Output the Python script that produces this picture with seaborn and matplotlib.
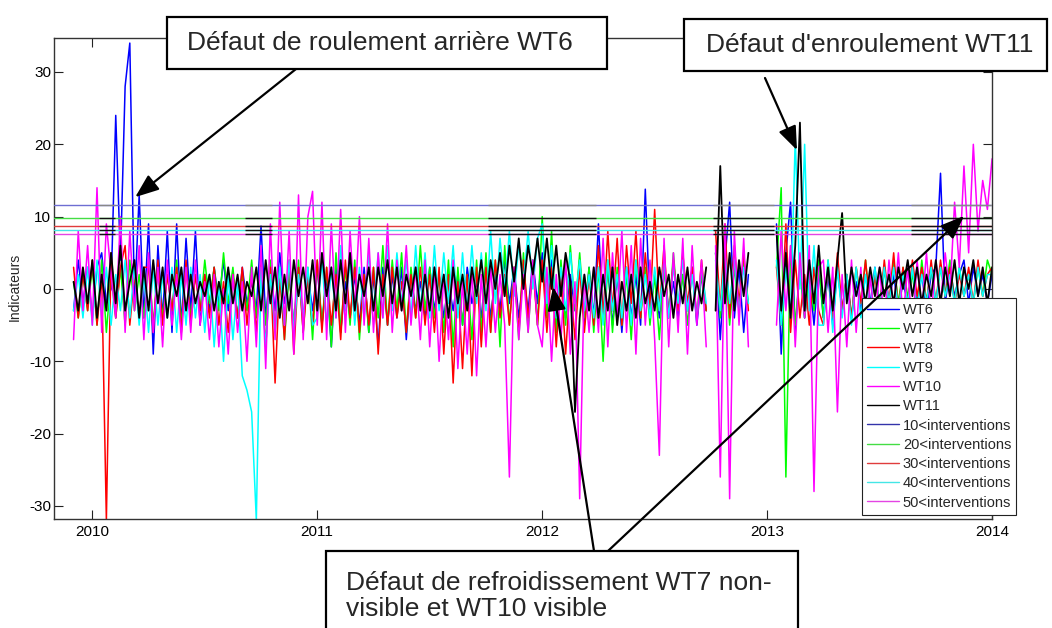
import numpy as np
import pandas as pd
import matplotlib
matplotlib.use("Agg")
import matplotlib.pyplot as plt
from matplotlib.lines import Line2D
from matplotlib.patches import Rectangle
import seaborn as sns

nan = np.nan

# weekly samples of the indicators (48 per year), from late 2009 to the end of 2013
dates = 2009.917 + np.arange(197) / 48

wt6 = [-3, 4, -2, 3,
       -4, 3, 5, -2, 0, 24, 4, 28, 34, -2, 13, -4,
       9, -9, 6, -4, 8, -6, 9, -5, 7, -3, 8, -5,
       2, -3, 3, -2, 4, -3, 2, -4, 3, -2, 1, -3,
       8.7, -4, 3, -3, 5, -2, 2, -5, 3, -4, 2, -3,
       3, -5, 2, -8, 3, -6, 1, -4, 2, -5, 3, -6,
       2, -8, 3, -5, 2, -4, 3, -7, 2, -3, 1, -4,
       3, -3, 2, -4, 1, -3, 2, -5, 3, -2, 1, -4,
       3, -4, 2, -3, 4, -2, 3, -4, 2, -3, 4, -2,
       5, -3, 4, -5, 3, -4, 2, -3, 4, -5, 3, -4,
       9, -4, 3, -5, 2, -6, 3, -4, 2, -5, 13.8, -3,
       2, -4, 3, -3, 1, -4, 2, -3, 3, -5, 2, -3,
       nan, 5, -7, 4, 12, -4, 3, -6, 2, nan, nan, nan,
       nan, nan, 9, -9, 5, 12, -6, 3, -4, 2, -5, 3,
       -4, 2, -5, 3, -3, 2, -4, 1, -3, 2, -2, 3,
       -3, 3, -2, 2, -3, 1, -2, 3, -2, 2, -3, 2,
       3, 16, -2, 3, -1, 2, 4, -2, 3, -1, 2, -2,
       2]

wt7 = [1, -4, 2, -3,
       3, -5, 4, -6, 2, -4, 3, -5, 4, -3, 2, -4,
       4, -5, 3, -4, 2, -3, 4, -5, 3, -4, 2, -3,
       4, -2, 3, -3, 5, -2, 3, -4, 2, -3, 4, -4,
       3, -5, 4, -6, 3, -7, 2, -5, 4, -6, 3, -7,
       4, -5, 3, -8, 5, -6, 3, -5, 4, -7, 2, -6,
       3, -4, 6, -5, 4, -3, 5, -6, 3, -4, 6, -3,
       3, -4, 2, -6, 4, -8, 3, -5, 2, -7, 4, -6,
       5, -6, 4, -8, 6, -5, 3, -7, 5, -6, 4, -5,
       10, -4, 8, -6, 4, -5, 6, -3, 5, -4, 3, -6,
       3, -10, 4, -6, 3, -5, 2, -7, 4, -4, 3, -5,
       2, -7, 3, -4, 5, -3, 2, -5, 3, -4, 2, -3,
       nan, 5, -4, 4, -5, 3, -3, 4, -2, nan, nan, nan,
       nan, nan, 3, 14, -26, 6, -5, 3, -4, 2, -3, 4,
       -4, 4, -3, 3, -3, 2, -4, 3, -2, 4, -3, 2,
       -2, 3, -3, 4, -2, 3, -1, 2, -3, 4, -2, 3,
       -2, 3, -1, 4, -2, 3, -1, 2, -2, 3, -1, 4,
       2]

wt8 = [3, -4, 2, -3,
       4, -5, 2, -32, 5, -4, 3, 6, -5, 2, -4, 3,
       3, -6, 4, -5, 2, -3, 3, -6, 4, -5, 2, -3,
       2, -4, 3, -5, 1, -6, 2, -4, 3, -5, 2, -6,
       4, -8, 3, -13, 2, -7, 4, -9, 3, -6, 2, -5,
       4, -6, 3, -5, 2, -7, 4, -4, 3, -6, 2, -5,
       3, -9, 2, -5, 3, -4, 1, -6, 2, -4, 3, -5,
       2, -6, 3, -9, 2, -13, 1, -11, 2, -12, 3, -8,
       3, -6, 4, -4, 2, -5, 3, -6, 4, -4, 3, -5,
       4, -6, 3, -8, 2, -9, 1, -7, 3, -6, 2, -5,
       6, -4, 8, -3, 7, -5, 6, -2, 8, -4, 5, -3,
       11, -3, 6, -4, 4, -3, 5, -2, 3, -4, 4, -3,
       nan, 8, -3, 9, -4, 6, -2, 5, -3, nan, nan, nan,
       nan, nan, 3, -5, 9, -6, 4, -4, 2, -5, 3, -3,
       -5, 3, -4, 5, -3, 2, -4, 3, -2, 4, -3, 2,
       -3, 4, -2, 5, -3, 3, -2, 4, -1, 3, -2, 4,
       -2, 4, -1, 3, -2, 2, -1, 3, -2, 4, -1, 2,
       3]

wt9 = [-3, 2, -4, 3,
       -5, 4, -4, 3, -5, 2, -3, 4, -4, 3, -5, 2,
       -6, 3, -5, 2, -4, 3, -6, 2, -5, 3, -4, 2,
       -6, 2, -8, 1, -10, 2, -7, 1, -12, -14, -17, -32,
       3, -8, 2, -6, 3, -5, 4, -6, 2, -4, 3, -5,
       -4, 4, -5, 3, -4, 6, -3, 4, -5, 3, -4, 5,
       -3, 5, -4, 6, -3, 5, -2, 4, -4, 6, -3, 5,
       -4, 6, -3, 5, -2, 6, -4, 5, -3, 6, -2, 5,
       -3, 8, -2, 7, 0, 8, -1, 6, 1, 8, 0, 7,
       9, -2, 6, -4, 3, -3, 5, -2, 4, -3, 2, -4,
       3, -5, 4, -3, 2, -4, 3, -5, 4, -3, 2, -4,
       3, -3, 4, -4, 3, -2, 4, -3, 2, -4, 3, -2,
       nan, 4, -3, 5, -2, 4, -3, 3, -2, nan, nan, nan,
       nan, nan, 4, -5, 3, -4, 21, 0, 20, -3, 6, -5,
       -5, 4, -6, 3, -4, 2, -5, 3, -4, 2, -3, 3,
       -3, 3, -2, 3, -3, 2, -2, 3, -3, 2, -2, 3,
       -2, 3, -1, 2, -2, 3, -1, 2, -2, 3, -1, 2,
       2]

wt10 = [-7, 8, -3, 6,
        -5, 14, -6, 9, 2, -4, 10, -6, 8, -3, 6, -7,
        5, -6, 3, -8, 4, -5, 2, -7, 3, -6, 4, -5,
        1, -7, 2, -8, 0, -9, 2, -6, 1, -10, 3, -8,
        6, -11, 9, -7, 12, -5, 8, -9, 13, -7, 10, 13.5,
        -5, 12, -7, 9, -4, 11, -6, 8, -3, 10, -5, 7,
        -6, 5, -4, 9, -6, 4, -3, 6, -5, 3, -7, 4,
        -8, 3, -10, 2, -7, 4, -11, 1, -9, 3, -12, 2,
        -8, 3, -6, 2, -5, -26, 3, -7, 2, -6, 4, -5,
        -8, 3, -10, 2, -7, 4, -9, 1, -29, 2, -6, 3,
        -6, 7, -8, 5, -4, 8, -6, 6, -9, 7, -5, 4,
        -7, -23, 7, -8, 5, -6, 7, -9, 6, -5, 4, -8,
        nan, 6, -26, 9, -29, 8, -5, 7, -8, nan, nan, nan,
        nan, nan, -5, 8, -3, 6, -8, 5, -4, 6, -28, 3,
        4, -6, 3, -17, 2, -8, 4, -6, 3, -10, 2, -5,
        3, -5, 4, -3, 5, -4, 3, -6, 4, -3, 5, -4,
        4, -2, 5, -1, 12, 3, 17, 5, 20, 8, 15, 11,
        18]

wt11 = [1, -3, 3, -2,
        4, -4, 2, -3, 5, -2, 6, -3, 1, 4, -4, 3,
        -3, 4, -2, 3, -4, 2, -1, 3, -3, 2, -2, 1,
        -1, 2, -3, 1, -2, 3, -2, 2, -3, 1, -1, 3,
        -3, 4, -2, 3, -4, 2, -3, 4, -1, 3, -2, 4,
        -3, 5, -1, 3, -3, 4, -2, 5, -3, 2, -1, 3,
        -3, 3, -1, 4, -2, 3, -3, 2, -1, 3, -3, 2,
        -3, 3, -2, 2, -4, 3, -2, 2, -3, 3, -1, 4,
        -2, 4, 0, 5, -1, 6, 1, 7, 0, 6, 2, 7,
        1, 7, 0, 6, -1, 5, 1, -17, -4, 2, -3, 3,
        -4, 2, -3, 3, -5, 1, -3, 2, -4, 3, -2, 1,
        -3, 3, -1, 2, -4, 2, -2, 3, -3, 1, -2, 3,
        nan, -3, 17, -2, 5, -3, 4, -1, 5, nan, nan, nan,
        nan, nan, 8, -3, 5, -4, 6, 23, -3, 4, -2, 6,
        -2, 3, -3, 4, 10.5, -2, 3, -1, 2, -2, 3, -1,
        3, -1, 2, -2, 3, 0, 4, -1, 3, -2, 2, -1,
        4, -2, 3, -1, 4, -2, 3, 0, 4, -1, 3, -2,
        3]

turbines = ["WT6", "WT7", "WT8", "WT9", "WT10", "WT11"]
series = [wt6, wt7, wt8, wt9, wt10, wt11]

# alert levels by number of interventions
threshold_labels = ["10<interventions", "20<interventions", "30<interventions",
                    "40<interventions", "50<interventions"]
threshold_levels = [11.6, 9.8, 8.7, 8.2, 7.6]
# periods where the WT11 alert levels are drawn over the others
overlay_start = [2010.03, 2010.68, 2011.76, 2012.76, 2013.64]
overlay_end = [2010.10, 2010.80, 2012.24, 2013.03, 2014.0]

turbine_colors = ["#0000ff", "#00ff00", "#ff0000", "#00ffff", "#ff00ff", "#000000"]
threshold_colors = ["#6e6ed2", "#44dd44", "#e03c3c", "#44e6e6", "#e444e4"]

rows = []
for name, vals in zip(turbines, series):
    v = np.asarray(vals, dtype=float)
    seg = np.cumsum(np.isnan(v))
    rows.append(pd.DataFrame({"date": dates, "value": v, "turbine": name, "seg": seg}))
df = pd.concat(rows, ignore_index=True).dropna()

sns.set_style("ticks")
plt.rcParams["font.family"] = ["Liberation Sans", "DejaVu Sans"]
plt.rcParams["axes.unicode_minus"] = False

W, H = 1052, 628
fig = plt.figure(figsize=(W / 100, H / 100), dpi=100)
ax = fig.add_axes([54 / W, 1 - 519 / H, (992 - 54) / W, (519 - 38) / H])


def fx(px):
    return px / W


def fy(py):
    return 1 - py / H


sns.lineplot(data=df, x="date", y="value", hue="turbine", hue_order=turbines,
             units="seg", estimator=None, sort=False,
             palette=dict(zip(turbines, turbine_colors)),
             linewidth=1.1, legend=False, ax=ax)
# the WT11 trace is drawn a little heavier on top of the others
for line in ax.get_lines():
    if line.get_color() in ("#000000", "k", (0.0, 0.0, 0.0, 1.0)):
        line.set_linewidth(1.3)

for lvl, col in zip(threshold_levels, threshold_colors):
    ax.axhline(lvl, color=col, lw=1.0, zorder=3)
for s, e in zip(overlay_start, overlay_end):
    for k, lvl in enumerate(threshold_levels):
        ax.hlines(lvl, s, e, color="#888888" if k == 0 else "#111111", lw=1.0, zorder=3.1)

ax.set_xlim(2009.83, 2014.0)
ax.set_ylim(-31.8, 34.7)
ax.set_xticks([2010, 2011, 2012, 2013, 2014])
ax.set_xticklabels(["2010", "2011", "2012", "2013", "2014"])
ax.set_yticks([-30, -20, -10, 0, 10, 20, 30])
ax.tick_params(direction="in", length=6.5, width=0.8, labelsize=11,
               top=True, right=True, colors="#222222", labelcolor="black")
ax.tick_params(axis="y", pad=2)
ax.tick_params(axis="x", pad=4)
for sp in ax.spines.values():
    sp.set_visible(True)
    sp.set_color("#333333")
    sp.set_linewidth(1.0)
ax.set_xlabel("")
ax.set_ylabel("Indicateurs", fontsize=10)
ax.yaxis.set_label_coords(-0.034, 0.482)

handles = [Line2D([], [], color=c, lw=1.0) for c in turbine_colors]
handles += [Line2D([], [], color=c, lw=1.0) for c in
            ["#3333aa", "#44dd44", "#e03c3c", "#44e6e6", "#e444e4"]]
leg = ax.legend(handles, turbines + threshold_labels, loc="upper left",
                bbox_to_anchor=(fx(862), fy(298)), bbox_transform=fig.transFigure,
                fontsize=10.5, frameon=True, fancybox=False, framealpha=1,
                edgecolor="#222222", borderpad=0.35, labelspacing=0.36,
                handlelength=2.2, handletextpad=0.25, borderaxespad=0)
leg.get_frame().set_linewidth(0.8)
leg.set_zorder(5)

# annotation boxes
boxes = [
    (167, 17, 607, 69, [(187, 43, "Défaut de roulement arrière WT6")]),
    (684, 19, 1047, 71, [(706, 45, "Défaut d'enroulement WT11")]),
    (326, 551, 798, 640, [(346, 583, "Défaut de refroidissement WT7 non-"),
                          (346, 609, "visible et WT10 visible")]),
]
for x0, y0, x1, y1, texts in boxes:
    fig.add_artist(Rectangle((fx(x0), fy(y1)), fx(x1 - x0), (y1 - y0) / H,
                             transform=fig.transFigure, facecolor="white",
                             edgecolor="black", lw=1.6, zorder=10))
    for tx, ty, s in texts:
        fig.text(fx(tx), fy(ty), s, fontsize=19, ha="left", va="center", zorder=11)

arrow_props = dict(arrowstyle="-|>,head_length=0.9,head_width=0.35",
                   color="black", lw=1.6, mutation_scale=16, shrinkA=0, shrinkB=0)
arrows = [
    ((2010.191, 12.7), (296, 69)),
    ((2013.133, 19.2), (765, 78)),
    ((2012.049, 0.3), (594, 551)),
    ((2013.876, 10.1), (608, 551)),
]
for (tx, tv), (px, py) in arrows:
    ax.annotate("", xy=(tx, tv), xytext=(px, H - py), textcoords="figure pixels",
                xycoords="data", arrowprops=arrow_props, annotation_clip=False,
                zorder=12)

fig.savefig("out.png", dpi=100)
